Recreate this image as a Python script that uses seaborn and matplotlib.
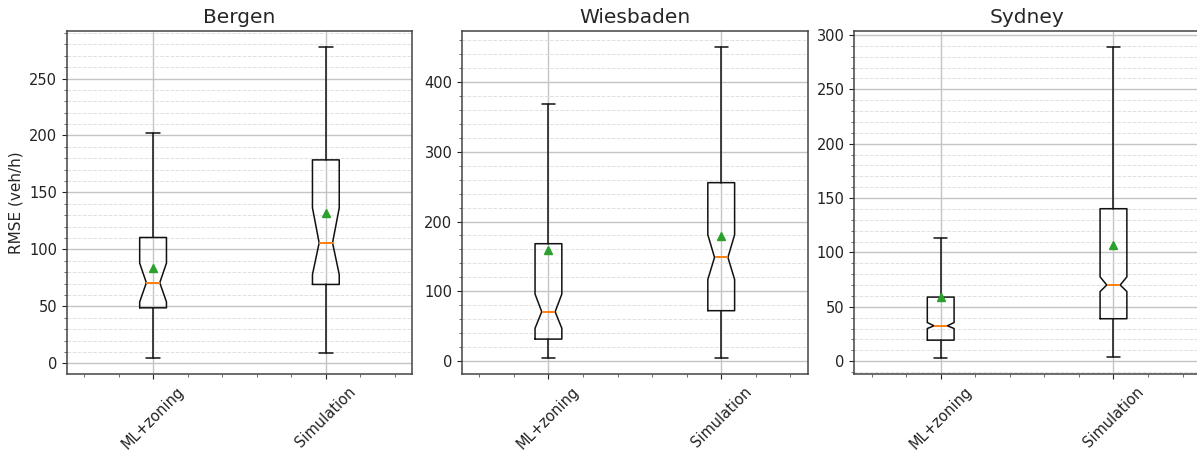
import numpy as np
import matplotlib
matplotlib.use("Agg")
import matplotlib.pyplot as plt
import seaborn as sb
from matplotlib.ticker import AutoMinorLocator, MultipleLocator

# values (rows = city, cols = [ML+zoning, Simulation])
cities = ["Bergen", "Wiesbaden", "Sydney"]
methods = ["ML+zoning", "Simulation"]

whislo = [[4.4, 9.4], [3.8, 4.8], [2.5, 3.7]]
q1 = [[48.8, 69.3], [31.5, 72.2], [19.3, 39.0]]
med = [[70.8, 105.8], [70.7, 148.6], [32.5, 70.0]]
q3 = [[110.5, 178.6], [168.2, 255.7], [58.9, 140.2]]
whishi = [[201.8, 278.0], [368.0, 450.7], [113.2, 289.3]]
means = [[83.5, 131.6], [158.7, 179.7], [59.2, 106.4]]
ci_lo = [[54.0, 78.0], [47.0, 117.0], [30.0, 64.0]]
ci_hi = [[88.0, 136.5], [96.0, 181.0], [35.5, 77.5]]
major_step = [50, 100, 50]

sb.set_style("ticks")
plt.rcParams["font.family"] = ["DejaVu Sans"]
plt.rcParams["axes.edgecolor"] = "#444444"
plt.rcParams["axes.linewidth"] = 1.1

fig = plt.figure(figsize=(11.97, 4.54), dpi=100)
lefts = [0.0557, 0.386, 0.7137]

for i, city in enumerate(cities):
    ax = fig.add_axes([lefts[i], 0.1762, 0.2887, 0.7555])
    stats = []
    for j, m in enumerate(methods):
        stats.append({
            "label": m,
            "whislo": whislo[i][j], "q1": q1[i][j], "med": med[i][j],
            "q3": q3[i][j], "whishi": whishi[i][j], "mean": means[i][j],
            "cilo": ci_lo[i][j], "cihi": ci_hi[i][j], "fliers": [],
        })
    ax.bxp(stats, positions=[1, 2], widths=0.155, shownotches=True,
           showmeans=True, showfliers=False,
           boxprops=dict(color="#111111", linewidth=1.1),
           whiskerprops=dict(color="#111111", linewidth=1.1),
           capprops=dict(color="#111111", linewidth=1.1),
           medianprops=dict(color="#ff7f0e", linewidth=1.4),
           meanprops=dict(marker="^", markerfacecolor="#2ca02c",
                          markeredgecolor="#2ca02c", markersize=6))
    ax.set_xlim(0.5, 2.5)
    ax.yaxis.set_major_locator(MultipleLocator(major_step[i]))
    ax.yaxis.set_minor_locator(AutoMinorLocator())
    ax.xaxis.set_minor_locator(AutoMinorLocator())
    ax.grid(which="major", color="#c4c4c4", linewidth=1.0)
    ax.grid(which="minor", axis="y", color="#e0e0e0", linestyle="--", linewidth=0.7)
    ax.set_axisbelow(True)
    ax.tick_params(axis="both", which="major", labelsize=10.5, colors="#222222",
                   length=3.5, width=0.8)
    ax.tick_params(axis="both", which="minor", length=2, width=0.6, colors="#555555")
    ax.tick_params(axis="x", labelrotation=45)
    ax.set_title(city, fontsize=14.5)
    if i == 0:
        ax.set_ylabel("RMSE (veh/h)", fontsize=11)

plt.savefig("out.png", dpi=100)
